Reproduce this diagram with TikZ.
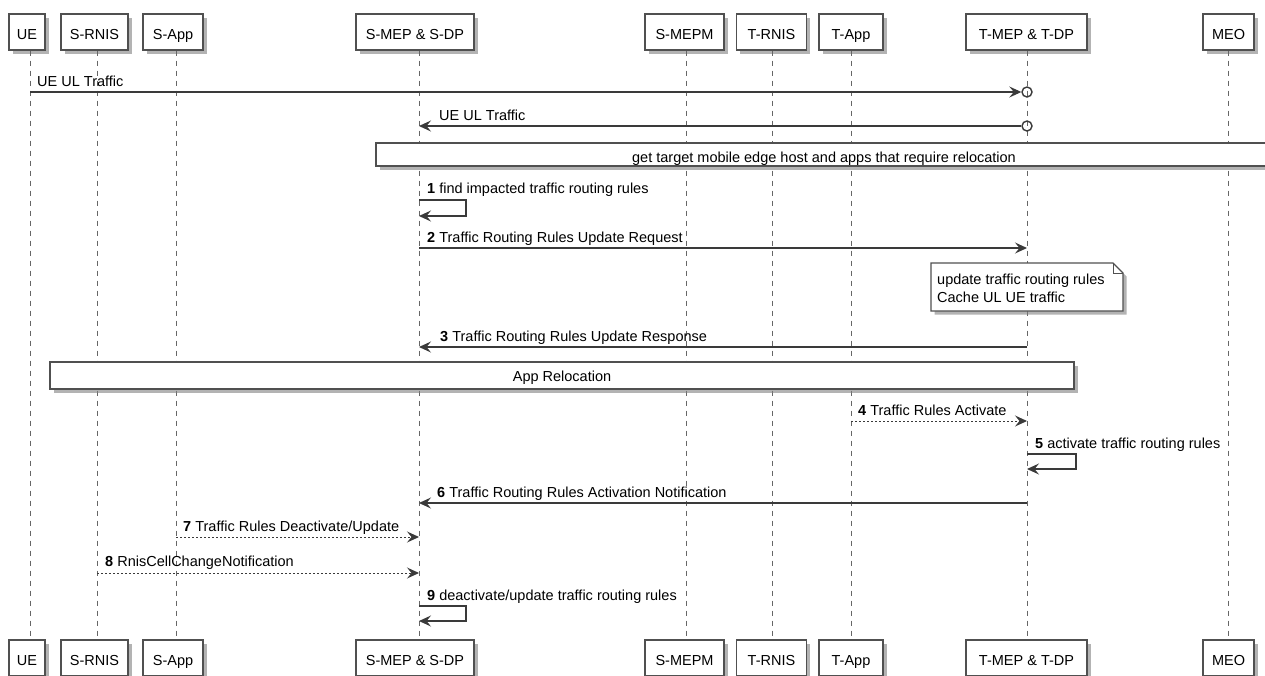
\documentclass[tikz,border=0pt]{standalone}
\usepackage{fontspec}
\setmainfont{Liberation Sans}
\usetikzlibrary{arrows.meta,shadows}
\definecolor{linec}{HTML}{3A3A3A}
\definecolor{boxc}{HTML}{505050}
\definecolor{lifec}{HTML}{666666}
\begin{document}
\begin{tikzpicture}[x=1pt,y=-1pt, font=\fontsize{14.5}{18}\selectfont,
 shad/.style={drop shadow={shadow xshift=3.5pt, shadow yshift=-3.5pt, fill=black!50, opacity=0.6}},
 part/.style={draw=boxc, line width=1.2pt, fill=white, minimum height=36pt, inner sep=0pt, text height=14pt, text depth=0pt, shad},
 life/.style={draw=lifec, dash pattern=on 5pt off 5pt, line width=0.9pt},
 tip/.style={-{Stealth[length=12pt,width=11pt,inset=4.5pt]}},
 msg/.style={draw=linec, line width=1.1pt, tip},
 dmsg/.style={msg, line width=1pt, dash pattern=on 2pt off 2pt},
 selfmsg/.style={draw=linec, line width=1.1pt, tip},
 lbl/.style={anchor=base west, inner sep=0pt},
 grp/.style={draw=boxc, line width=1.2pt, fill=white, inner sep=0pt, text depth=0pt, shad},
 endc/.style={circle, draw=linec, line width=1.4pt, minimum size=10pt, inner sep=0pt},
]
\useasboundingbox (0,0) rectangle (1265,675);
% lifeline positions
\coordinate (ue) at (30,0);
\coordinate (srnis) at (97,0);
\coordinate (sapp) at (176,0);
\coordinate (smep) at (419,0);
\coordinate (smepm) at (686,0);
\coordinate (trnis) at (772,0);
\coordinate (tapp) at (851,0);
\coordinate (tmep) at (1027,0);
\coordinate (meo) at (1228,0);
% participant boxes, top
\node[part, minimum width=36pt] (ueT) at (27,32) {UE};
\node[part, minimum width=67pt] (srnisT) at (94.5,32) {S-RNIS};
\node[part, minimum width=60pt] (sappT) at (173,32) {S-App};
\node[part, minimum width=118pt] (smepT) at (415,32) {S-MEP \& S-DP};
\node[part, minimum width=79pt] (smepmT) at (684.5,32) {S-MEPM};
\node[part, minimum width=70pt] (trnisT) at (771.5,32) {T-RNIS};
\node[part, minimum width=64pt] (tappT) at (851,32) {T-App};
\node[part, minimum width=121pt] (tmepT) at (1026.5,32) {T-MEP \& T-DP};
\node[part, minimum width=51pt] (meoT) at (1228.5,32) {MEO};
% participant boxes, bottom
\node[part, minimum width=36pt] (ueB) at (27,658) {UE};
\node[part, minimum width=67pt] (srnisB) at (94.5,658) {S-RNIS};
\node[part, minimum width=60pt] (sappB) at (173,658) {S-App};
\node[part, minimum width=118pt] (smepB) at (415,658) {S-MEP \& S-DP};
\node[part, minimum width=79pt] (smepmB) at (684.5,658) {S-MEPM};
\node[part, minimum width=70pt] (trnisB) at (771.5,658) {T-RNIS};
\node[part, minimum width=64pt] (tappB) at (851,658) {T-App};
\node[part, minimum width=121pt] (tmepB) at (1026.5,658) {T-MEP \& T-DP};
\node[part, minimum width=51pt] (meoB) at (1228.5,658) {MEO};
% lifelines
\foreach \p in {ue,srnis,sapp,smep,smepm,trnis,tapp,tmep,meo}
  \draw[life] (\p |- \p T.south) -- (\p |- \p B.north);
% message: UE UL Traffic
\node[endc] (c0) at (tmep |- 0,92) {};
\draw[msg] (ue |- 0,92) -- (c0.west);
\node[lbl] (l0) at (37,86) {UE UL Traffic};
% message: UE UL Traffic back
\node[endc] (c1) at (tmep |- 0,126) {};
\draw[msg] (c1.west) -- (smep |- 0,126);
\node[lbl] (l0b) at (439,120) {UE UL Traffic};
% group box 1
\node[grp, text height=15pt, minimum width=896pt, minimum height=23pt] (g1) at (824,154.5) {get target mobile edge host and apps that require relocation};
% 1 self
\coordinate (s1a) at (smep |- 0,200);
\coordinate (s1b) at (466,200);
\coordinate (s1c) at (466,216);
\coordinate (s1d) at (smep |- 0,216);
\draw[selfmsg] (s1a) -- (s1b) -- (s1c) -- (s1d);
\node[lbl] (l1) at (427,193) {\textbf{1} find impacted traffic routing rules};
% 2
\draw[msg] (smep |- 0,248) -- (tmep |- 0,248);
\node[lbl] (l2) at (427,242) {\textbf{2} Traffic Routing Rules Update Request};
% note
\draw[draw=boxc, line width=1.2pt, fill=white, shad] (931,263) -- (1113,263) -- (1123,273) -- (1123,311) -- (931,311) -- cycle;
\draw[draw=boxc, line width=0.9pt] (1113,263) -- (1113,273) -- (1123,273);
\node[anchor=base west, align=left, inner sep=0pt] (note) at (937,302.5) {update traffic routing rules\\Cache UL UE traffic};
% 3
\draw[msg] (tmep |- 0,347) -- (smep |- 0,347);
\node[lbl] (l3) at (440,341) {\textbf{3} Traffic Routing Rules Update Response};
% group box 2
\node[grp, text height=11pt, minimum width=1024pt, minimum height=27pt] (g2) at (562,375.5) {App Relocation};
% 4
\draw[dmsg] (tapp |- 0,421) -- (tmep |- 0,421);
\node[lbl] (l4) at (858,415) {\textbf{4} Traffic Rules Activate};
% 5 self
\coordinate (s5a) at (tmep |- 0,454);
\coordinate (s5b) at (1076,454);
\coordinate (s5c) at (1076,469);
\coordinate (s5d) at (tmep |- 0,469);
\draw[selfmsg] (s5a) -- (s5b) -- (s5c) -- (s5d);
\node[lbl] (l5) at (1035,448) {\textbf{5} activate traffic routing rules};
% 6
\draw[msg] (tmep |- 0,503) -- (smep |- 0,503);
\node[lbl] (l6) at (437,497) {\textbf{6} Traffic Routing Rules Activation Notification};
% 7
\draw[dmsg] (sapp |- 0,537) -- (smep |- 0,537);
\node[lbl] (l7) at (183,531) {\textbf{7} Traffic Rules Deactivate/Update};
% 8
\draw[dmsg] (srnis |- 0,573) -- (smep |- 0,573);
\node[lbl] (l8) at (105,566) {\textbf{8} RnisCellChangeNotification};
% 9 self
\coordinate (s9a) at (smep |- 0,606);
\coordinate (s9b) at (466,606);
\coordinate (s9c) at (466,621);
\coordinate (s9d) at (smep |- 0,621);
\draw[selfmsg] (s9a) -- (s9b) -- (s9c) -- (s9d);
\node[lbl] (l9) at (427,600) {\textbf{9} deactivate/update traffic routing rules};
\end{tikzpicture}
\end{document}
